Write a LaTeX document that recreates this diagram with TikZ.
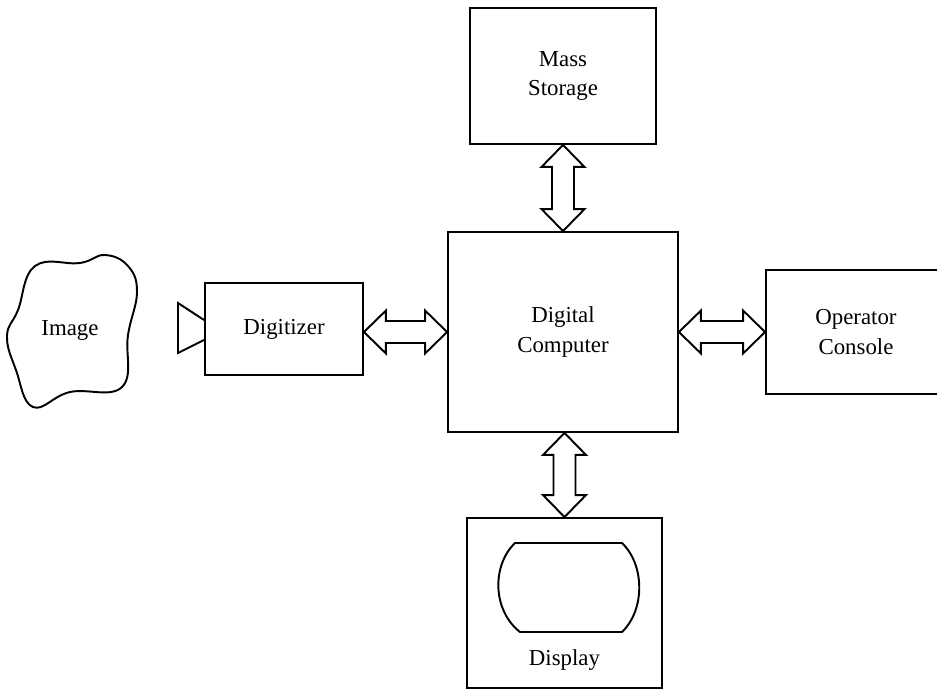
\documentclass[tikz,border=0pt]{standalone}
\usepackage{fontspec}
\setmainfont{Liberation Serif}
\usepackage{tikz}
\usetikzlibrary{positioning,calc}
\tikzset{
    block/.style={draw, line width=1.1pt, font=\fontsize{13}{17}\selectfont, align=center, inner sep=0pt},
    caption/.style={font=\fontsize{13}{17}\selectfont, align=center, inner sep=0pt},
    fatline/.style={line width=1.1pt, line join=miter}
}
% hollow double-headed arrow from #1 to #2
\newcommand{\fatarrow}[2]{%
    \draw[fatline] (#1)
        -- ($(#1)!0.44cm!(#2)!0.43cm!90:(#2)$)
        -- ($(#1)!0.44cm!(#2)!0.22cm!90:(#2)$)
        -- ($(#2)!0.44cm!(#1)!0.22cm!-90:(#1)$)
        -- ($(#2)!0.44cm!(#1)!0.43cm!-90:(#1)$)
        -- (#2)
        -- ($(#2)!0.44cm!(#1)!0.43cm!90:(#1)$)
        -- ($(#2)!0.44cm!(#1)!0.22cm!90:(#1)$)
        -- ($(#1)!0.44cm!(#2)!0.22cm!-90:(#2)$)
        -- ($(#1)!0.44cm!(#2)!0.43cm!-90:(#2)$)
        -- cycle;%
}

\begin{document}
\begin{tikzpicture}[x=0.02cm, y=-0.02cm]
    \useasboundingbox (0,0) rectangle (937,691);

    \node[block, minimum width=3.72cm, minimum height=2.72cm] (mass) at (563,76) {Mass\\Storage};
    \node[block, minimum width=4.6cm, minimum height=4cm] (comp) at (563,332) {Digital\\Computer};
    \node[block, minimum width=3.16cm, minimum height=1.84cm] (digi) at (284,329) {Digitizer};
    \node[block, minimum width=3.6cm, minimum height=2.48cm] (oper) at (856,332) {Operator\\Console};
    \node[block, minimum width=3.9cm, minimum height=3.4cm] (disp) at (564.5,603) {};
    \node[caption] (displbl) at (564.5,660) {Display};
    \node[caption] (image) at (70,330) {Image};

    % image outline
    \draw[line width=1.1pt] plot[smooth cycle, tension=0.7] coordinates {
        (35,266) (18,310) (7,336) (16,370) (33,407) (70,392) (122,387)
        (128,335) (137,292) (128,266) (105,255) (80,263)};

    % digitizer lens
    \draw[line width=1.1pt, line join=miter] ($(digi.west)+(0,-9)$) -- (178,303) -- (178,353) -- ($(digi.west)+(0,11)$);

    % screen
    \draw[line width=1.1pt] (515,543) -- (622,543) .. controls (645,565) and (645,610) .. (622,632)
        -- (520,632) .. controls (492,610) and (492,565) .. (515,543) -- cycle;

    \fatarrow{mass.south}{comp.north}
    \fatarrow{comp.south -| disp}{disp.north}
    \fatarrow{digi.east |- comp.west}{comp.west}
    \fatarrow{comp.east}{oper.west}

\end{tikzpicture}
\end{document}
